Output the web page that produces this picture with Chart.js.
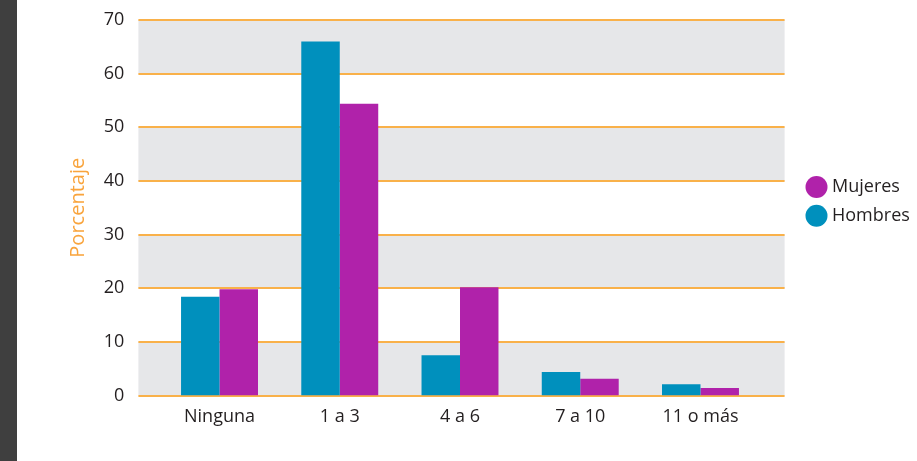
<!DOCTYPE html>
<html>
<head>
<meta charset="utf-8">
<script src="https://cdn.jsdelivr.net/npm/chart.js@4.4.1/dist/chart.umd.min.js"></script>
<style>
  html, body { margin: 0; padding: 0; background: #ffffff; }
  #wrap { position: relative; width: 917px; height: 461px; }
</style>
</head>
<body>
<div id="wrap"><canvas id="c" width="917" height="461"></canvas></div>
<script>
// Number of visits per category, share of respondents (%)
const categories = ['Ninguna', '1 a 3', '4 a 6', '7 a 10', '11 o más'];
const hombres = [18.4, 66.0, 7.5, 4.4, 2.1];
const mujeres = [19.8, 54.4, 20.2, 3.1, 1.4];
const yTicks = [0, 10, 20, 30, 40, 50, 60, 70];
const seriesNames = ['Hombres', 'Mujeres'];
const yTitle = 'Porcentaje';

const COL_H = '#0090bd';
const COL_M = '#b022aa';
const COL_GRID = '#f9b14a';
const COL_BAND = '#e6e7e9';
const COL_TEXT = '#231f20';
const FONT = '"Open Sans", "Noto Sans", sans-serif';

// Dark strip at the left edge, striped background bands and orange rules
const backdrop = {
  id: 'backdrop',
  beforeDraw(chart) {
    const ctx = chart.ctx;
    ctx.save();
    ctx.fillStyle = '#ffffff';
    ctx.fillRect(0, 0, chart.width, chart.height);
    ctx.fillStyle = '#3f3f3f';
    ctx.fillRect(0, 0, 17, chart.height);
    ctx.restore();
  },
  beforeDatasetsDraw(chart) {
    const { ctx, chartArea } = chart;
    const y = chart.scales.y;
    const x0 = chartArea.left - 21;
    const x1 = chartArea.right + 24;
    ctx.save();
    for (let i = 0; i < yTicks.length - 1; i++) {
      if (i % 2 === 0) {
        const top = y.getPixelForValue(yTicks[i + 1]);
        const bot = y.getPixelForValue(yTicks[i]);
        ctx.fillStyle = COL_BAND;
        ctx.fillRect(x0, top, x1 - x0, bot - top);
      }
    }
    ctx.strokeStyle = COL_GRID;
    ctx.lineWidth = 2;
    yTicks.forEach(v => {
      const py = Math.round(y.getPixelForValue(v));
      ctx.beginPath();
      ctx.moveTo(x0, py);
      ctx.lineTo(x1, py);
      ctx.stroke();
    });
    ctx.restore();
  },
  afterDraw(chart) {
    // Legend with round markers, women listed first
    const ctx = chart.ctx;
    const items = chart.data.datasets.slice().reverse();
    ctx.save();
    ctx.font = '18px ' + FONT;
    ctx.textBaseline = 'middle';
    ctx.textAlign = 'left';
    items.forEach((ds, i) => {
      const cy = 187 + i * 28.7;
      ctx.beginPath();
      ctx.fillStyle = ds.backgroundColor;
      ctx.arc(816.5, cy, 11, 0, Math.PI * 2);
      ctx.fill();
      ctx.fillStyle = COL_TEXT;
      ctx.fillText(ds.label, 832, cy);
    });
    ctx.restore();
  }
};

new Chart(document.getElementById('c'), {
  type: 'bar',
  data: {
    labels: categories,
    datasets: [
      { label: seriesNames[0], data: hombres, backgroundColor: COL_H },
      { label: seriesNames[1], data: mujeres, backgroundColor: COL_M }
    ]
  },
  options: {
    responsive: false,
    animation: false,
    devicePixelRatio: 1,
    layout: { padding: { left: 0, right: 156.4, top: 20, bottom: 0 } },
    datasets: { bar: { categoryPercentage: 0.64, barPercentage: 1.0, borderWidth: 0 } },
    plugins: { legend: { display: false }, tooltip: { enabled: false } },
    scales: {
      x: {
        grid: { display: false, drawTicks: false },
        border: { display: false },
        ticks: { color: COL_TEXT, font: { family: FONT, size: 18 }, padding: 11 },
        afterFit(scale) { scale.height = 65.5; }
      },
      y: {
        min: 0,
        max: 70,
        afterBuildTicks(scale) { scale.ticks = yTicks.map(v => ({ value: v })); },
        grid: { display: false, drawTicks: false },
        border: { display: false },
        ticks: { color: COL_TEXT, font: { family: FONT, size: 18 }, padding: 35 },
        title: {
          display: true,
          text: yTitle,
          color: '#f9a43c',
          font: { family: FONT, size: 20 },
          padding: { top: 66, bottom: 0 }
        },
        afterFit(scale) {
          scale.width = 159.4;
          scale.paddingTop = 0;
          scale.paddingBottom = 0;
        }
      }
    }
  },
  plugins: [backdrop]
});
</script>
</body>
</html>
